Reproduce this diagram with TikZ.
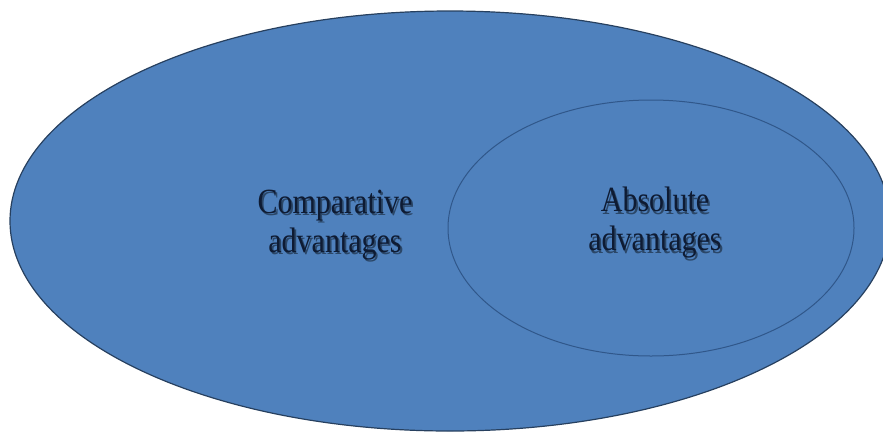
\documentclass[tikz,border=0pt]{standalone}
\usepackage{fontspec}
\setmainfont{Liberation Serif}
\usepackage{xcolor}
\usepackage{graphicx}
\usepackage{tikz}
\usetikzlibrary{positioning,shapes.geometric}
\definecolor{setBlue}{HTML}{4F81BD}
\definecolor{setEdge}{HTML}{27405F}
\definecolor{setInner}{HTML}{30578A}
\definecolor{setText}{HTML}{0E1B33}
\colorlet{setShadow}{setBlue!55!black}

% one line of label text, a little tall, with a drop shadow behind it
\newcommand\shadowline[1]{%
  \scalebox{1}[1.18]{\rlap{\kern1.8pt\raisebox{-1.8pt}{\textcolor{setShadow}{#1}}}#1}}

\begin{document}
\begin{tikzpicture}[
  x=1pt, y=-1pt,
  every node/.style={inner sep=0pt},
  outerset/.style={ellipse, draw=setEdge, line width=1.2pt, fill=setBlue,
    minimum width=880pt, minimum height=420pt},
  innerset/.style={ellipse, draw=setInner, line width=1pt, fill=setBlue,
    minimum width=406pt, minimum height=256pt},
  setlabel/.style={align=center, text=setText,
    font=\fontsize{30}{39}\selectfont},
]
\useasboundingbox (0,0) rectangle (883,432);

% the two sets
\node[outerset] (comp) at (450,221) {};
\node[innerset] (abs) at (651,228) {};

% labels
\node[setlabel] (comp-label) at (335,226)
  {\shadowline{Comparative}\\\shadowline{advantages}};
\node[setlabel] (abs-label) at (655,224)
  {\shadowline{Absolute}\\\shadowline{advantages}};
\end{tikzpicture}
\end{document}
